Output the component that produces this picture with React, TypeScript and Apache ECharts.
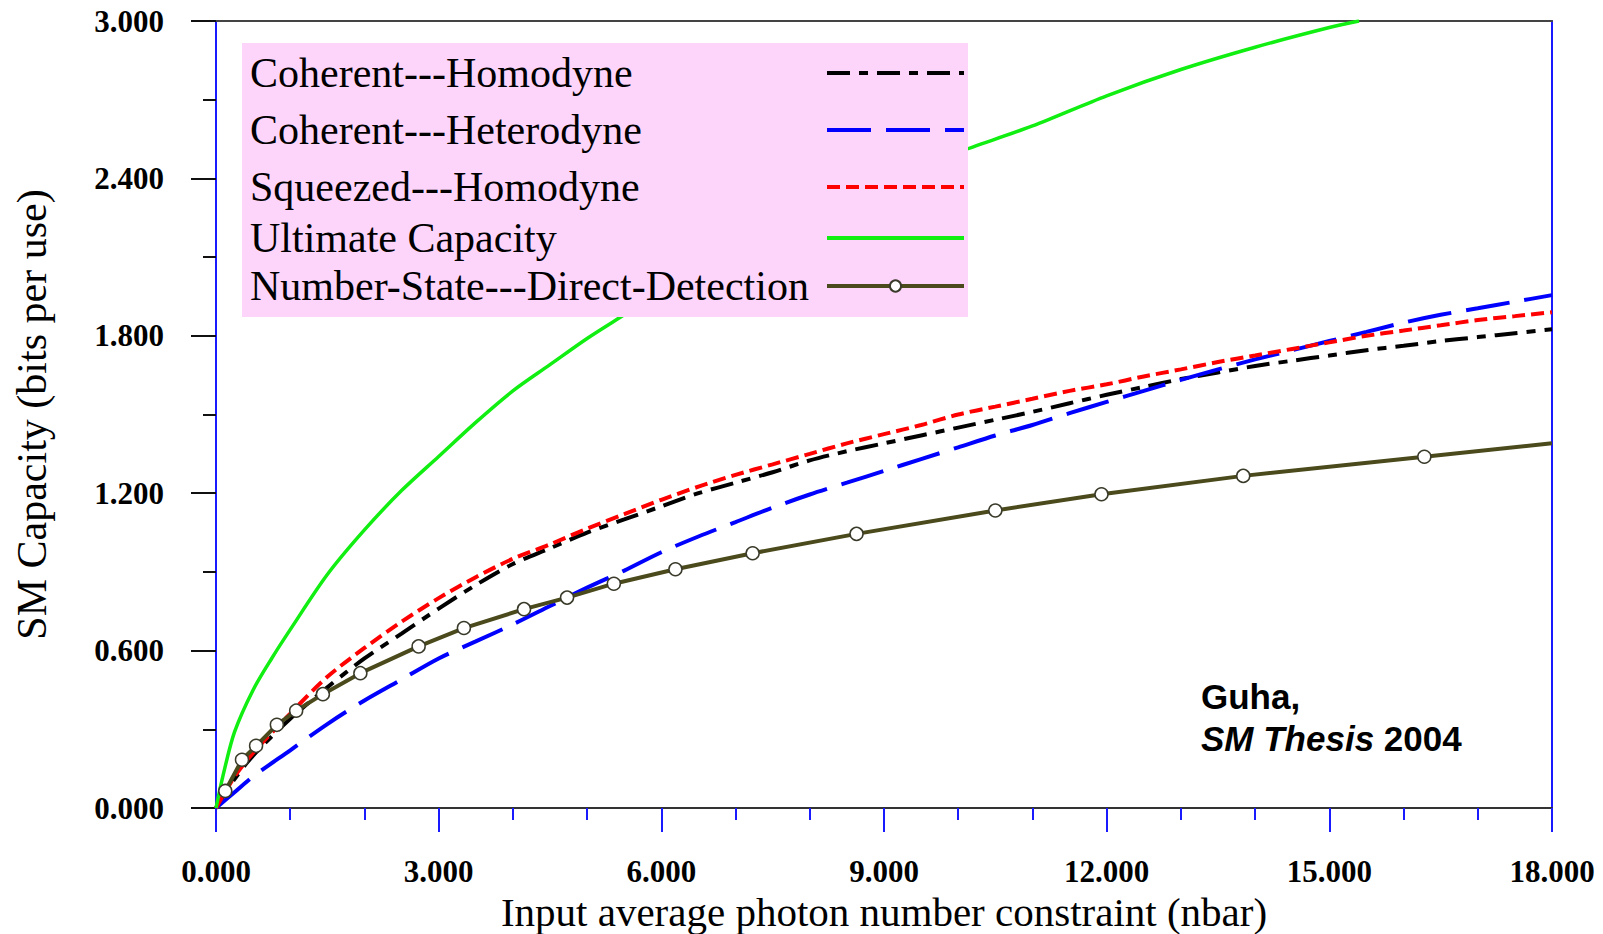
import React, { useEffect, useRef } from "react";
import * as echarts from "echarts";

// ---------- data ----------
const seriesNames = [
  "Coherent---Homodyne",
  "Coherent---Heterodyne",
  "Squeezed---Homodyne",
  "Ultimate Capacity",
  "Number-State---Direct-Detection",
];

const xTicks = [0, 3, 6, 9, 12, 15, 18];
const yTicks = [0, 0.6, 1.2, 1.8, 2.4, 3.0];

const nbarGrid = [
  0, 0.25, 0.5, 1, 1.5, 2, 2.5, 3, 3.5, 4, 4.5, 5, 5.5, 6, 6.5, 7, 7.5, 8, 8.5,
  9, 9.5, 10, 10.5, 11, 11.5, 12, 12.5, 13, 13.5, 14, 14.5, 15, 15.5, 16, 16.5,
  17, 17.5, 18,
];

const coherentHomodyne = [
  0, 0.11, 0.2, 0.34, 0.46, 0.57, 0.665, 0.76, 0.85, 0.93, 0.99, 1.05, 1.1,
  1.15, 1.2, 1.24, 1.28, 1.325, 1.36, 1.39, 1.42, 1.45, 1.48, 1.51, 1.543,
  1.575, 1.605, 1.635, 1.66, 1.685, 1.705, 1.725, 1.745, 1.762, 1.78, 1.795,
  1.81, 1.825,
];

const coherentHeterodyne = [
  0, 0.06, 0.12, 0.22, 0.32, 0.41, 0.49, 0.57, 0.635, 0.7, 0.77, 0.84, 0.905,
  0.975, 1.035, 1.09, 1.145, 1.195, 1.24, 1.285, 1.33, 1.375, 1.42, 1.46, 1.505,
  1.548, 1.59, 1.632, 1.672, 1.71, 1.745, 1.78, 1.815, 1.85, 1.88, 1.905, 1.93,
  1.955,
];

const squeezedHomodyne = [
  0, 0.12, 0.21, 0.36, 0.5, 0.61, 0.71, 0.8, 0.88, 0.95, 1.005, 1.065, 1.12,
  1.175, 1.225, 1.27, 1.31, 1.35, 1.39, 1.425, 1.46, 1.5, 1.53, 1.56, 1.59,
  1.615, 1.645, 1.672, 1.7, 1.725, 1.75, 1.775, 1.8, 1.82, 1.84, 1.86, 1.875,
  1.89,
];

const ultimateX = [
  0, 0.1, 0.25, 0.5, 0.75, 1, 1.5, 2, 2.5, 3, 3.5, 4, 4.5, 5, 5.5, 6, 7, 8, 9,
  10, 11, 12, 13, 14, 15, 15.4,
];
const ultimateY = [
  0, 0.13, 0.29, 0.45, 0.57, 0.68, 0.89, 1.06, 1.21, 1.34, 1.47, 1.59, 1.69,
  1.79, 1.88, 1.97, 2.13, 2.27, 2.39, 2.5, 2.6, 2.715, 2.815, 2.9, 2.975, 3.0,
];

const numberStateX = [
  0.125, 0.35, 0.54, 0.82, 1.08, 1.44, 1.945, 2.73, 3.34, 4.15, 4.73, 5.36,
  6.19, 7.23, 8.63, 10.5, 11.93, 13.84, 16.28, 18,
];
const numberStateY = [
  0.065, 0.184, 0.237, 0.317, 0.371, 0.434, 0.514, 0.616, 0.686, 0.758, 0.802,
  0.855, 0.91, 0.971, 1.045, 1.134, 1.196, 1.266, 1.339, 1.39,
];

const xAxisTitle = "Input average photon number constraint (nbar)";
const yAxisTitle = "SM Capacity (bits per use)";
const noteLine1 = "Guha,";
const noteItalic = "SM Thesis";
const noteYear = "2004";

// ---------- helpers ----------
const pair = (xs: number[], ys: number[]) => xs.map((x, i) => [x, ys[i]]);

const SERIF = "'Liberation Serif', 'Times New Roman', serif";
const SANS = "'Liberation Sans', Arial, sans-serif";

// legend row centres (px) as in the reference
const legendRowCentres = [73, 130, 187, 238, 286];

export default function App() {
  const ref = useRef<HTMLDivElement>(null);

  useEffect(() => {
    if (!ref.current) return;
    const chart = echarts.init(ref.current, undefined, { renderer: "svg" });

    const tickLabel = {
      fontFamily: SERIF,
      fontWeight: "bold" as const,
      fontSize: 31,
      color: "#000",
      formatter: (v: number) => v.toFixed(3),
    };

    const nsData = pair(numberStateX, numberStateY).map((p, i, arr) =>
      i === arr.length - 1 ? { value: p, symbol: "none" } : { value: p }
    );

    const legends = seriesNames.map((name, i) => ({
      orient: "vertical",
      left: 250,
      top: legendRowCentres[i] - 21,
      align: "right",
      padding: 0,
      z: 8,
      itemGap: 0,
      itemWidth: 137,
      itemHeight: 14,
      lineStyle: { width: 4 },
      formatter: (n: string) => `{t|${n}}`,
      textStyle: {
        fontFamily: SERIF,
        fontSize: 42,
        lineHeight: 42,
        color: "#000",
        rich: {
          t: {
            width: 572,
            align: "left",
            fontFamily: SERIF,
            fontSize: 42,
            lineHeight: 42,
            color: "#000",
          },
        },
      },
      data: [
        i === 4
          ? { name }
          : { name, itemStyle: { opacity: 0, color: "rgba(0,0,0,0)", borderWidth: 0 } },
      ],
    }));

    const option: any = {
      animation: false,
      backgroundColor: "#ffffff",
      grid: {
        left: 216,
        right: 51,
        top: 21,
        bottom: 126,
        containLabel: false,
        outerBoundsMode: "none",
      },
      legend: legends,
      xAxis: [
        {
          type: "value",
          position: "bottom",
          min: 0,
          max: 18,
          interval: 3,
          axisLine: { show: true, onZero: false, lineStyle: { color: "#333", width: 2 } },
          axisTick: { show: true, length: 24, lineStyle: { color: "#1a1aff", width: 2 } },
          minorTick: { show: true, splitNumber: 3, length: 12, lineStyle: { color: "#1a1aff", width: 2 } },
          splitLine: { show: false },
          axisLabel: { ...tickLabel, margin: 48 },
          name: xAxisTitle,
          nameLocation: "middle",
          nameGap: 76,
          nameTextStyle: { fontFamily: SERIF, fontSize: 41, lineHeight: 41, color: "#000" },
        },
        {
          type: "value",
          position: "top",
          min: 0,
          max: 18,
          interval: 3,
          axisLine: { show: true, onZero: false, lineStyle: { color: "#444", width: 2 } },
          axisTick: { show: false },
          axisLabel: { show: false },
          splitLine: { show: false },
        },
      ],
      yAxis: [
        {
          type: "value",
          position: "left",
          min: 0,
          max: 3,
          interval: 0.6,
          axisLine: { show: true, onZero: false, lineStyle: { color: "#1a1aff", width: 2 } },
          axisTick: { show: true, length: 25, lineStyle: { color: "#111", width: 2 } },
          minorTick: { show: true, splitNumber: 2, length: 13, lineStyle: { color: "#111", width: 2 } },
          splitLine: { show: false },
          axisLabel: { ...tickLabel, margin: 52 },
          name: yAxisTitle,
          nameLocation: "middle",
          nameGap: 163,
          nameTextStyle: { fontFamily: SERIF, fontSize: 42, lineHeight: 42, color: "#000" },
        },
        {
          type: "value",
          position: "right",
          min: 0,
          max: 3,
          interval: 0.6,
          axisLine: { show: true, onZero: false, lineStyle: { color: "#1a1aff", width: 2 } },
          axisTick: { show: false },
          axisLabel: { show: false },
          splitLine: { show: false },
        },
      ],
      series: [
        {
          name: seriesNames[0],
          type: "line",
          data: pair(nbarGrid, coherentHomodyne),
          symbol: "none",
          smooth: 0.3,
          lineStyle: { color: "#000", width: 4, type: [23, 9, 9, 9] },
          itemStyle: { color: "#000" },
          z: 3,
        },
        {
          name: seriesNames[1],
          type: "line",
          data: pair(nbarGrid, coherentHeterodyne),
          symbol: "none",
          smooth: 0.3,
          lineStyle: { color: "#0000ff", width: 4, type: [44, 15] },
          itemStyle: { color: "#0000ff" },
          z: 3,
        },
        {
          name: seriesNames[2],
          type: "line",
          data: pair(nbarGrid, squeezedHomodyne),
          symbol: "none",
          smooth: 0.3,
          lineStyle: { color: "#ff0000", width: 4, type: [13, 6] },
          itemStyle: { color: "#ff0000" },
          z: 3,
        },
        {
          name: seriesNames[3],
          type: "line",
          data: pair(ultimateX, ultimateY),
          symbol: "none",
          smooth: 0.3,
          lineStyle: { color: "#11ee11", width: 3.5 },
          itemStyle: { color: "#11ee11" },
          z: 3,
        },
        {
          name: seriesNames[4],
          type: "line",
          data: nsData,
          symbol: "circle",
          symbolSize: 13,
          showAllSymbol: true,
          lineStyle: { color: "#4a4a1c", width: 4 },
          itemStyle: { color: "#ffffff", borderColor: "#3a3a2a", borderWidth: 1.5 },
          z: 4,
        },
      ],
      graphic: [
        {
          type: "rect",
          z: 6,
          shape: { x: 242, y: 43, width: 726, height: 274 },
          style: { fill: "#fdd5fb" },
          silent: true,
        },
        {
          type: "text",
          x: 1201,
          y: 675,
          z: 10,
          style: {
            text: `{b|${noteLine1}}\n{bi|${noteItalic} }{b|${noteYear}}`,
            fill: "#000",
            rich: {
              b: { fontFamily: SANS, fontWeight: "bold", fontSize: 35, lineHeight: 42, fill: "#000" },
              bi: {
                fontFamily: SANS,
                fontWeight: "bold",
                fontStyle: "italic",
                fontSize: 35,
                lineHeight: 42,
                fill: "#000",
              },
            },
          },
        },
      ],
    };

    chart.setOption(option);
    return () => chart.dispose();
  }, []);

  return (
    <div
      ref={ref}
      style={{ position: "fixed", left: 0, top: 0, width: "1603px", height: "934px", background: "#fff" }}
    />
  );
}
